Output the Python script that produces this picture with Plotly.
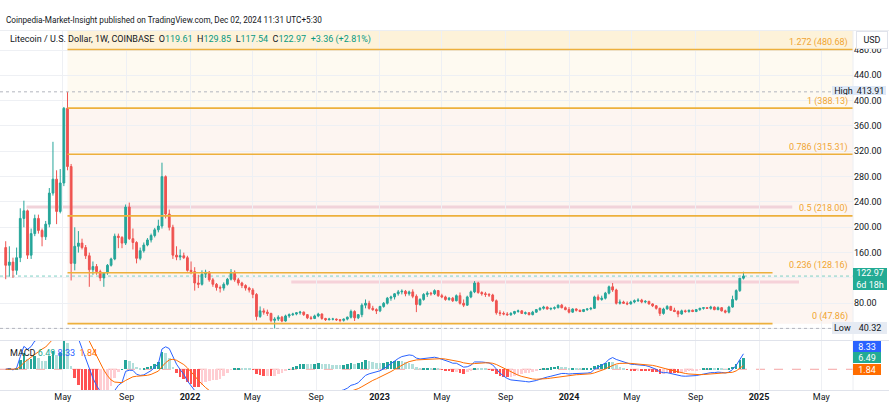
import pandas as pd
import plotly.graph_objects as go

W, H = 889, 410
PLOT_R = 853  # right edge of plot area (px)

# ---------------- data (weekly LTC/USD) ----------------
opens = [
    168, 140, 145, 132, 152, 214, 226, 156, 190, 214,
    195, 185, 205, 254, 276, 225, 270, 388, 296, 143,
    170, 175, 168, 155, 133, 138, 130, 120, 128, 140,
    150, 186, 184, 175, 232, 182, 176, 151, 163, 172,
    180, 187, 196, 202, 280, 221, 200, 156, 153, 155,
    152, 132, 130, 112, 110, 126, 129, 117, 110, 105,
    104, 110, 118, 129, 117, 112, 108, 104, 101, 94,
    59, 68, 66, 64, 53, 55, 58, 52, 60, 62,
    63, 65, 66, 62, 57, 56, 60, 63, 56, 54,
    55, 55, 54, 53, 55, 58, 67, 57, 62, 77,
    80, 72, 70, 68, 75, 80, 88, 90, 95, 98,
    99, 95, 98, 91, 78, 86, 94, 96, 95, 100,
    92, 90, 86, 88, 84, 92, 80, 77, 90, 98,
    112, 97, 95, 94, 93, 84, 65, 64, 63, 62,
    64, 67, 68, 64, 65, 62, 66, 70, 72, 74,
    71, 72, 73, 77, 73, 70, 66, 71, 69, 67,
    70, 71, 72, 90, 86, 88, 96, 106, 101, 80,
    82, 80, 79, 82, 84, 85, 82, 83, 79, 76,
    72, 64, 71, 75, 69, 67, 63, 68, 67, 69,
    67, 70, 72, 73, 72, 74, 70, 73, 68, 66,
    74, 86, 100, 119.61,
]
highs = [
    178, 170, 152, 168, 230, 242, 228, 198, 220, 220,
    198, 210, 262, 335, 290, 292, 390, 413.91, 300, 200,
    194, 182, 172, 160, 146, 142, 133, 128, 142, 152,
    190, 190, 186, 236, 239, 198, 178, 168, 176, 183,
    190, 199, 212, 302, 282, 228, 204, 170, 165, 160,
    155, 146, 137, 125, 132, 133, 131, 120, 112, 108,
    113, 120, 134, 132, 120, 114, 110, 106, 104, 96,
    75, 72, 70, 65, 58, 61, 60, 62, 64, 65,
    66, 68, 67, 63, 60, 62, 65, 64, 57, 57,
    57, 56, 55, 56, 59, 70, 69, 63, 80, 86,
    84, 76, 72, 76, 82, 90, 92, 96, 101, 102,
    101, 100, 102, 94, 88, 96, 99, 98, 102, 101,
    95, 92, 90, 90, 94, 97, 86, 92, 100, 115,
    114, 99, 98, 96, 95, 86, 69, 67, 66, 66,
    68, 70, 69, 67, 66, 68, 71, 74, 76, 75,
    73, 75, 78, 79, 75, 74, 72, 72, 70, 71,
    72, 74, 92, 94, 92, 98, 108, 112, 103, 86,
    84, 83, 84, 86, 88, 87, 85, 84, 80, 77,
    73, 73, 77, 76, 73, 69, 70, 70, 70, 70,
    71, 73, 74, 74, 76, 75, 75, 74, 70, 76,
    92, 102, 120, 129.85,
]
lows = [
    118, 122, 120, 125, 145, 200, 150, 150, 186, 190,
    170, 180, 200, 250, 205, 222, 265, 290, 116, 132,
    160, 165, 150, 106, 125, 125, 115, 106, 125, 138,
    148, 167, 167, 172, 180, 165, 143, 148, 160, 170,
    176, 184, 192, 198, 214, 195, 150, 148, 148, 150,
    130, 126, 100, 104, 108, 120, 114, 106, 100, 97,
    100, 108, 116, 114, 108, 104, 100, 97, 88, 53,
    57, 62, 60, 50, 40.32, 52, 50, 51, 57, 60,
    61, 62, 60, 55, 54, 55, 58, 54, 52, 53,
    53, 52, 50, 51, 53, 56, 52, 55, 58, 72,
    70, 68, 63, 66, 73, 78, 84, 86, 92, 94,
    91, 92, 88, 66, 76, 84, 90, 92, 93, 90,
    88, 84, 84, 82, 83, 78, 74, 76, 88, 96,
    95, 92, 90, 90, 82, 62, 60, 61, 60, 60,
    62, 65, 63, 62, 61, 61, 65, 68, 70, 70,
    69, 70, 72, 72, 69, 64, 65, 67, 66, 66,
    68, 69, 71, 84, 84, 86, 94, 98, 78, 78,
    79, 77, 78, 80, 82, 80, 80, 78, 74, 70,
    60, 62, 70, 68, 66, 58, 62, 65, 65, 66,
    66, 68, 70, 71, 70, 69, 69, 67, 64, 64,
    73, 84, 98, 117.54,
]
closes = [
    140, 145, 132, 152, 214, 226, 156, 190, 214, 195,
    185, 205, 254, 276, 225, 270, 388, 296, 143, 170,
    175, 168, 155, 133, 138, 130, 120, 128, 140, 150,
    186, 184, 175, 232, 182, 176, 151, 163, 172, 180,
    187, 196, 202, 280, 221, 200, 156, 153, 155, 152,
    132, 130, 112, 110, 126, 129, 117, 110, 105, 104,
    110, 118, 129, 117, 112, 108, 104, 101, 94, 59,
    68, 66, 64, 53, 55, 58, 52, 60, 62, 63,
    65, 66, 62, 57, 56, 60, 63, 56, 54, 55,
    55, 54, 53, 55, 58, 67, 57, 62, 77, 80,
    72, 70, 68, 75, 80, 88, 90, 95, 98, 99,
    95, 98, 91, 78, 86, 94, 96, 95, 100, 92,
    90, 86, 88, 84, 92, 80, 77, 90, 98, 112,
    97, 95, 94, 93, 84, 65, 64, 63, 62, 64,
    67, 68, 64, 65, 62, 66, 70, 72, 74, 71,
    72, 73, 77, 73, 70, 66, 71, 69, 67, 70,
    71, 72, 90, 86, 88, 96, 106, 101, 80, 82,
    80, 79, 82, 84, 85, 82, 83, 79, 76, 72,
    64, 71, 75, 69, 67, 63, 68, 67, 69, 67,
    70, 72, 73, 72, 74, 70, 73, 68, 66, 74,
    86, 100, 119.61, 122.97,
]
first_week = "2021-01-11"

fib_ratios = ["1.272", "1", "0.786", "0.5", "0.236", "0"]
fib_prices = [480.68, 388.13, 315.31, 218.00, 128.16, 47.86]

high_price, low_price, last_price = 413.91, 40.32, 122.97
pink_levels = [232, 113.5]

price_ticks = [40, 80, 120, 160, 200, 240, 280, 320, 360, 400, 440, 480]
price_tick_text = ["", "80.00", "", "160.00", "200.00", "240.00", "280.00",
                   "320.00", "360.00", "400.00", "440.00", "480.00"]

time_ticks = ["2021-01-01", "2021-05-01", "2021-09-01", "2022-01-01", "2022-05-01",
              "2022-09-01", "2023-01-01", "2023-05-01", "2023-09-01", "2024-01-01",
              "2024-05-01", "2024-09-01", "2025-01-01", "2025-05-01"]
time_labels = ["", "May", "Sep", "<b>2022</b>", "May", "Sep", "<b>2023</b>", "May",
               "Sep", "<b>2024</b>", "May", "Sep", "<b>2025</b>", "May"]

macd_label_vals = ["6.49", "8.33", "1.84"]  # histogram, MACD, signal

# ---------------- helpers ----------------
def PX(x):
    return x / W


def PY(y):
    return 1 - y / H


FONT = "Roboto, Arial, sans-serif"
TXT = "#131722"
UP, DOWN = "#26a69a", "#ef5350"
FIB_LINE = "#edb03c"
FIB_TXT = "#f0a532"
GRID = "#eef0f4"
X_LEFT, X_RIGHT = "2020-12-31", "2025-07-01"

dates = pd.date_range(first_week, periods=len(closes), freq="7D")

s = pd.Series(closes, dtype=float)
macd = s.ewm(span=12, adjust=False).mean() - s.ewm(span=26, adjust=False).mean()
signal = macd.ewm(span=9, adjust=False).mean()
hist = macd - signal
hist_colors = []
for i, h in enumerate(hist):
    prev = hist.iloc[i - 1] if i > 0 else 0
    if h >= 0:
        hist_colors.append("#26a69a" if h > prev else "#b2dfdb")
    else:
        hist_colors.append("#ffcdd2" if h > prev else "#ff5252")

fig = go.Figure()
fig.add_trace(go.Candlestick(
    x=dates, open=opens, high=highs, low=lows, close=closes,
    increasing=dict(line=dict(color=UP, width=1), fillcolor=UP),
    decreasing=dict(line=dict(color=DOWN, width=1), fillcolor=DOWN),
    whiskerwidth=0, xaxis="x", yaxis="y", showlegend=False, hoverinfo="skip"))

fig.add_trace(go.Bar(x=dates, y=hist, marker=dict(color=hist_colors, line=dict(width=0)),
                     width=5 * 86400000, xaxis="x2", yaxis="y2", showlegend=False))
fig.add_trace(go.Scatter(x=dates, y=macd, mode="lines", line=dict(color="#2962ff", width=1),
                         xaxis="x2", yaxis="y2", showlegend=False))
fig.add_trace(go.Scatter(x=dates, y=signal, mode="lines", line=dict(color="#ff6d00", width=1),
                         xaxis="x2", yaxis="y2", showlegend=False))

shapes = []
fib_start = "2021-05-10"
# fib fills
shapes.append(dict(type="rect", xref="x", yref="y", x0=fib_start, x1=X_RIGHT,
                   y0=fib_prices[0], y1=600, fillcolor="#fdf2d9", line=dict(width=0), layer="below"))
shapes.append(dict(type="rect", xref="x", yref="y", x0=fib_start, x1=X_RIGHT,
                   y0=fib_prices[1], y1=fib_prices[0], fillcolor="#fefaf1", line=dict(width=0), layer="below"))
shapes.append(dict(type="rect", xref="x", yref="y", x0=fib_start, x1=X_RIGHT,
                   y0=fib_prices[-1], y1=fib_prices[1], fillcolor="#fdf5f1", line=dict(width=0), layer="below"))
# pink horizontal rays
shapes.append(dict(type="line", xref="x", yref="y", x0="2021-02-20", x1="2025-03-06",
                   y0=pink_levels[0], y1=pink_levels[0], line=dict(color="#f1d3da", width=3), layer="below"))
shapes.append(dict(type="line", xref="x", yref="y", x0="2022-07-15", x1="2025-03-19",
                   y0=pink_levels[1], y1=pink_levels[1], line=dict(color="#f6d2d9", width=3), layer="below"))
# fib lines
for r, p in zip(fib_ratios, fib_prices):
    x1 = X_RIGHT if float(r) >= 0.5 else "2025-01-27"
    shapes.append(dict(type="line", xref="x", yref="y", x0=fib_start, x1=x1, y0=p, y1=p,
                       line=dict(color=FIB_LINE, width=1.6), layer="above"))
# high / low / last dotted lines
shapes.append(dict(type="line", xref="x", yref="y", x0=X_LEFT, x1=X_RIGHT, y0=high_price, y1=high_price,
                   line=dict(color="#b2b5be", width=1, dash="dot"), layer="above"))
shapes.append(dict(type="line", xref="x", yref="y", x0=X_LEFT, x1=X_RIGHT, y0=low_price, y1=low_price,
                   line=dict(color="#b2b5be", width=1, dash="dot"), layer="above"))
shapes.append(dict(type="line", xref="x", yref="y", x0=X_LEFT, x1=X_RIGHT, y0=last_price, y1=last_price,
                   line=dict(color="#7fd0c4", width=1, dash="dot"), layer="below"))
# MACD zero dashed line
shapes.append(dict(type="line", xref="x2", yref="y2", x0=X_LEFT, x1=X_RIGHT, y0=0, y1=0,
                   line=dict(color="#f5a3a3", width=1, dash="dash"), layer="below"))
# pane separators
for yy, col in [(340.5, "#e0e3eb"), (390.5, "#e0e3eb"), (30.5, "#eceef2")]:
    shapes.append(dict(type="line", xref="paper", yref="paper", x0=0, x1=1, y0=PY(yy), y1=PY(yy),
                       line=dict(color=col, width=1)))
shapes.append(dict(type="line", xref="paper", yref="paper", x0=PX(PLOT_R), x1=PX(PLOT_R),
                   y0=PY(31), y1=PY(390), line=dict(color="#eceef2", width=1)))

ann = []
ann.append(dict(xref="paper", yref="paper", x=PX(4), y=PY(20), xanchor="left", yanchor="middle",
                text="Coinpedia-Market-Insight published on TradingView.com, Dec 02, 2024 11:31 UTC+5:30",
                showarrow=False, font=dict(size=8.2, color=TXT, family=FONT)))
G = "#089981"
legend_txt = ("Litecoin / U.S. Dollar, 1W, COINBASE  "
              f"O<span style='color:{G}'>119.61</span>  H<span style='color:{G}'>129.85</span>  "
              f"L<span style='color:{G}'>117.54</span>  C<span style='color:{G}'>122.97</span>  "
              f"<span style='color:{G}'>+3.36 (+2.81%)</span>")
ann.append(dict(xref="paper", yref="paper", x=PX(8), y=PY(40), xanchor="left", yanchor="middle",
                text=legend_txt, showarrow=False, font=dict(size=9, color=TXT, family=FONT)))
for r, p in zip(fib_ratios, fib_prices):
    ann.append(dict(xref="paper", yref="y", x=PX(849), y=p, xanchor="right", yanchor="middle",
                    yshift=7, borderpad=0, text=f"{r} ({p:.2f})", showarrow=False,
                    font=dict(size=9, color=FIB_TXT, family=FONT)))

# price scale boxes
def box(x0, x1, yc, h, text, bg, fg, size=9, border=None):
    ann.append(dict(xref="paper", yref="paper", x=PX(x0), y=PY(yc), xanchor="left", yanchor="middle",
                    width=x1 - x0, height=h, text=text, showarrow=False, bgcolor=bg,
                    bordercolor=border or bg, borderwidth=0 if border is None else 1, borderpad=0,
                    align="center", font=dict(size=size, color=fg, family=FONT)))

box(856, 886, 40, 16, "USD", "#ffffff", TXT, 9, border="#e0e3eb")
box(832, 855, 90.5, 9, "High", "#dfe9f7", TXT)
box(855, 886, 90.5, 9, f"{high_price:.2f}", "#dfe9f7", TXT)
box(832, 853, 328, 12, "Low", "#e6ebf3", TXT)
box(853, 887, 328, 12, f"{low_price:.2f}", "#e6ebf3", TXT)
box(853, 887, 279, 22, f"{last_price:.2f}<br>6d 18h", "#22ab94", "#ffffff")
box(853, 881, 346, 11, macd_label_vals[1], "#2962ff", "#ffffff")
box(853, 881, 357.5, 11, macd_label_vals[0], "#22ab94", "#ffffff")
box(853, 881, 369.5, 11, macd_label_vals[2], "#ff6d00", "#ffffff")

macd_legend = (f"MACD <span style='color:#22ab94'>{macd_label_vals[0]}</span> "
               f"<span style='color:#2962ff'>{macd_label_vals[1]}</span>  "
               f"<span style='color:#ff6d00'>{macd_label_vals[2]}</span>")
ann.append(dict(xref="paper", yref="paper", x=PX(8), y=PY(353), xanchor="left", yanchor="middle",
                text=macd_legend, showarrow=False, font=dict(size=9, color=TXT, family=FONT)))

fig.update_layout(
    width=W, height=H, margin=dict(l=0, r=0, t=0, b=0),
    paper_bgcolor="#ffffff", plot_bgcolor="#ffffff",
    font=dict(family=FONT, size=9, color=TXT),
    showlegend=False, bargap=0, hovermode=False,
    xaxis=dict(domain=[0, PX(PLOT_R)], range=[X_LEFT, X_RIGHT], type="date", anchor="y",
               tickvals=time_ticks, showticklabels=False, showgrid=True, gridcolor=GRID,
               zeroline=False, showline=False, ticks="", rangeslider=dict(visible=False)),
    yaxis=dict(domain=[PY(340), PY(31)], range=[22, 510], side="right", anchor="x",
               tickvals=price_ticks, ticktext=price_tick_text, showgrid=True, gridcolor=GRID,
               zeroline=False, showline=False, ticks="", tickfont=dict(size=9, color=TXT)),
    xaxis2=dict(domain=[0, PX(PLOT_R)], matches="x", type="date", anchor="y2",
                tickvals=time_ticks, ticktext=time_labels, showgrid=True, gridcolor=GRID,
                zeroline=False, showline=False, ticks="", tickfont=dict(size=9, color=TXT)),
    yaxis2=dict(domain=[PY(390), PY(341)], range=[-10.7, 14.6], anchor="x2", side="right",
                showticklabels=False, showgrid=False, zeroline=False),
    shapes=shapes, annotations=ann,
)

fig.write_html("out.html")
